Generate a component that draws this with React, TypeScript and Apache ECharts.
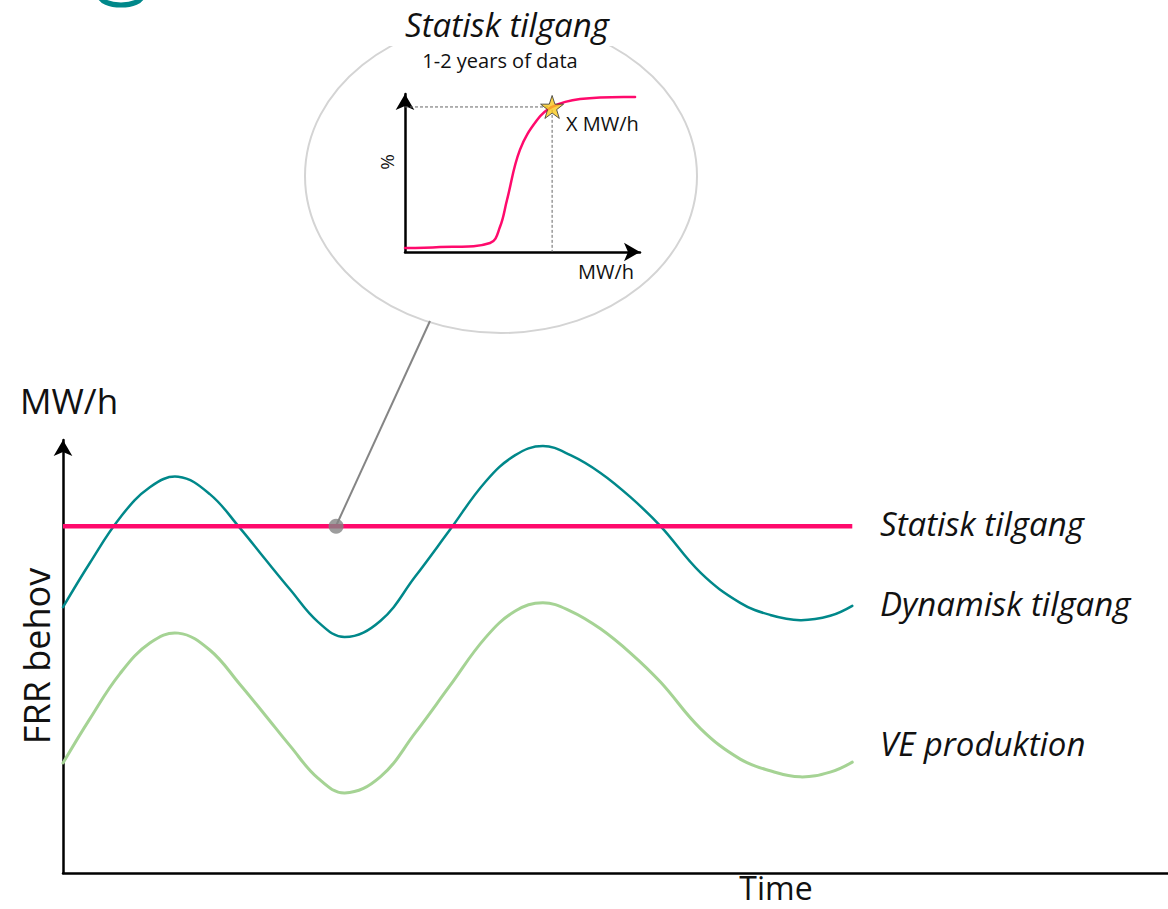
import React, { useEffect, useRef } from "react";
import * as echarts from "echarts";

// Main chart: time units 0..100, level units 0..100 (points read at extrema and along the flanks)
const timeSteps = [0, 3.4, 7.2, 11.0, 14.6, 18.6, 22.4, 25.6, 28.8, 32.3, 35.7, 40.2, 44.6, 49.0, 53.5, 57.3, 60.8, 64.3, 68.1, 71.9, 75.7, 80.8, 85.8, 89.6, 93.4, 97.2, 100];
const dynamiskTilgang = [61.4, 71.6, 82.0, 89.1, 91.5, 87.5, 79.7, 72.5, 65.4, 58.0, 54.5, 58.2, 68.4, 79.2, 90.3, 96.5, 98.6, 96.5, 92.4, 86.8, 80.1, 69.3, 62.4, 59.6, 58.4, 59.4, 61.7];
const veProduktion = [25.4, 35.6, 46.0, 53.1, 55.4, 51.5, 43.6, 36.5, 29.3, 21.9, 18.5, 22.2, 32.3, 43.2, 54.3, 60.5, 62.4, 60.5, 56.4, 50.8, 44.1, 33.3, 26.3, 23.6, 22.2, 23.3, 25.6];
const statiskTime = [0, 100];
const statiskTilgang = [80.1, 80.1];
const calloutPoint = [34.6, 80.1];

// Inset (duration curve)
const insetX = [0, 14.9, 36.2, 40.4, 43.4, 48.9, 56.2, 62.6, 74.5, 97.9];
const insetY = [2.5, 3.2, 5.7, 15.8, 32.9, 64.6, 83.5, 91.8, 96.8, 98.1];
const starPoint = [62.6, 91.8];

const seriesLabels = ["Statisk tilgang", "Dynamisk tilgang", "VE produktion"];

const TEAL = "#00888a";
const GREEN = "#a5d394";
const PINK = "#ff0a6c";
const FONT = "'Open Sans', 'Noto Sans', sans-serif";

const STAR = "path://M50,2 L61.5,36 L97,36 L68.5,57.5 L79.5,92 L50,71 L20.5,92 L31.5,57.5 L3,36 L38.5,36 Z";

export default function App() {
  const ref = useRef<HTMLDivElement>(null);
  useEffect(() => {
    if (!ref.current) return;
    const chart = echarts.init(ref.current, null, { renderer: "svg" });
    const zip = (a: number[], b: number[]) => a.map((v, i) => [v, b[i]]);
    const hidden = { axisTick: { show: false }, axisLabel: { show: false }, splitLine: { show: false } };
    const txt = (x: number, y: number, text: string, size: number, opts: any = {}) => ({
      type: "text", z: 3, x, y, rotation: opts.rotation || 0,
      style: {
        text, font: `${opts.italic ? "italic " : ""}${size}px ${FONT}`, lineHeight: size,
        fill: "#111", align: opts.align || "left", verticalAlign: "middle",
      },
    });
    const smoothCurve = (name: string, xs: number[], ys: number[], color: string, width: number, z: number, smooth: number, axis: number) => {
      const pts = zip(xs, ys);
      return {
        name, type: "custom", coordinateSystem: "cartesian2d", xAxisIndex: axis, yAxisIndex: axis,
        data: pts, encode: { x: 0, y: 1 }, z, silent: true,
        renderItem: (params: any, api: any) => {
          if (params.dataIndex !== 0) return null;
          return {
            type: "polyline",
            shape: { points: pts.map((p) => api.coord(p)), smooth },
            style: { stroke: color, lineWidth: width, fill: "none", lineJoin: "round", lineCap: "round" },
          };
        },
      };
    };
    const option: any = {
      animation: false,
      backgroundColor: "#ffffff",
      grid: [
        { left: 63, top: 440, width: 1105, height: 433 },
        { left: 405, top: 94, width: 235, height: 158 },
      ],
      xAxis: [
        {
          gridIndex: 0, type: "value", min: 0, max: 140,
          axisLine: { show: true, lineStyle: { color: "#000", width: 2.5 } }, ...hidden,
        },
        {
          gridIndex: 1, type: "value", min: 0, max: 100,
          axisLine: { show: true, symbol: ["none", "arrow"], symbolSize: [14, 16], lineStyle: { color: "#000", width: 2.5 } }, ...hidden,
        },
      ],
      yAxis: [
        {
          gridIndex: 0, type: "value", min: 0, max: 100,
          axisLine: { show: true, symbol: ["none", "arrow"], symbolSize: [14, 16], lineStyle: { color: "#000", width: 2.5 } }, ...hidden,
        },
        {
          gridIndex: 1, type: "value", min: 0, max: 100,
          axisLine: { show: true, symbol: ["none", "arrow"], symbolSize: [14, 16], lineStyle: { color: "#000", width: 2.5 } }, ...hidden,
        },
      ],
      series: [
        smoothCurve(seriesLabels[2], timeSteps, veProduktion, GREEN, 3, 2, 0.4, 0),
        smoothCurve(seriesLabels[1], timeSteps, dynamiskTilgang, TEAL, 2.5, 3, 0.4, 0),
        {
          name: seriesLabels[0], type: "line", xAxisIndex: 0, yAxisIndex: 0,
          data: zip(statiskTime, statiskTilgang), showSymbol: false,
          lineStyle: { color: PINK, width: 4.5 }, z: 4,
        },
        {
          type: "scatter", xAxisIndex: 0, yAxisIndex: 0,
          data: [calloutPoint], symbol: "circle", symbolSize: 15,
          itemStyle: { color: "#858585" }, z: 6,
        },
        {
          type: "line", xAxisIndex: 1, yAxisIndex: 1,
          data: [[0, starPoint[1]], [starPoint[0], starPoint[1]], [starPoint[0], 0]],
          showSymbol: false, lineStyle: { color: "#666", width: 1, type: [3, 2] }, z: 2,
        },
        smoothCurve("inset", insetX, insetY, PINK, 2.5, 3, 0.4, 1),
        {
          type: "scatter", xAxisIndex: 1, yAxisIndex: 1,
          data: [starPoint], symbol: STAR, symbolSize: 23,
          itemStyle: { color: "#f7c81c", borderColor: "#333", borderWidth: 1 }, z: 5,
        },
      ],
      graphic: [
        {
          type: "ellipse", z: 0,
          shape: { cx: 501, cy: 176, rx: 196, ry: 157 },
          style: { fill: "#ffffff", stroke: "#d4d4d4", lineWidth: 2 },
        },
        {
          type: "rect", z: 1,
          shape: { x: 380, y: 0, width: 245, height: 46 },
          style: { fill: "#ffffff" },
        },
        {
          type: "ellipse", z: 1,
          shape: { cx: 121, cy: -4, rx: 21, ry: 9 },
          style: { fill: "none", stroke: TEAL, lineWidth: 5 },
        },
        {
          type: "line", z: 1,
          shape: { x1: 430, y1: 321, x2: 336, y2: 526 },
          style: { stroke: "#858585", lineWidth: 2 },
        },
        txt(507, 24, "Statisk tilgang", 33, { italic: true, align: "center" }),
        txt(500, 60, "1-2 years of data", 20, { align: "center" }),
        txt(566, 123, "X MW/h", 20),
        txt(578, 271, "MW/h", 20),
        txt(387, 162, "%", 19, { align: "center", rotation: Math.PI / 2 }),
        txt(20, 400, "MW/h", 35),
        txt(36, 656, "FRR behov", 36, { align: "center", rotation: Math.PI / 2 }),
        txt(776, 887, "Time", 32, { align: "center" }),
        txt(880, 523, seriesLabels[0], 33, { italic: true }),
        txt(880, 603, seriesLabels[1], 33, { italic: true }),
        txt(880, 743, seriesLabels[2], 33, { italic: true }),
      ],
    };
    chart.setOption(option);
    return () => chart.dispose();
  }, []);
  return (
    <div
      ref={ref}
      style={{ position: "fixed", left: 0, top: 0, width: 1168, height: 909, background: "#fff" }}
    />
  );
}
